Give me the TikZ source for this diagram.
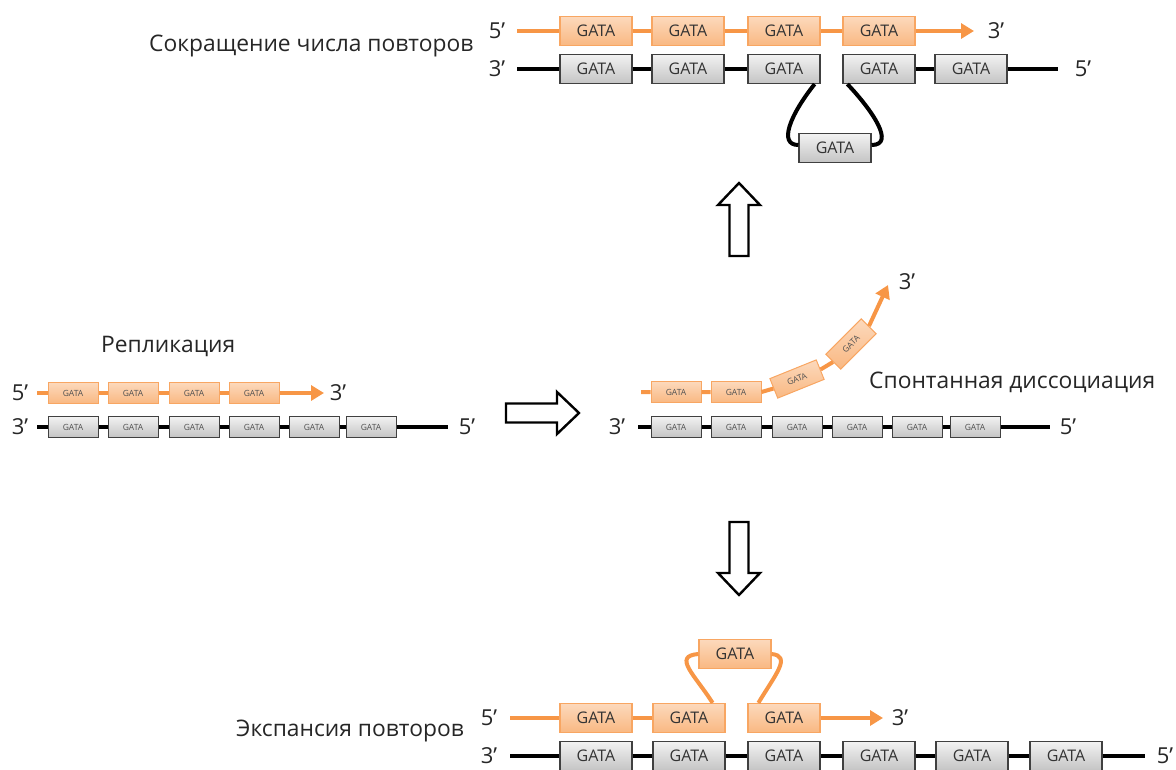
\documentclass[tikz,border=0pt]{standalone}
\usepackage{fontspec}
\setmainfont{Open Sans}
\usetikzlibrary{arrows.meta}
\definecolor{orline}{HTML}{F79646}
\definecolor{ortop}{HTML}{FCD9BC}
\definecolor{orbot}{HTML}{F9B882}
\definecolor{grtop}{HTML}{F2F2F2}
\definecolor{grbot}{HTML}{C4C4C4}
\definecolor{grdraw}{HTML}{404040}
\definecolor{boxtext}{HTML}{333333}
\begin{document}
\begin{tikzpicture}[x=1pt,y=-1pt,
  lbl/.style={inner sep=0pt,font=\fontsize{22}{26}\selectfont,text=black!85},
  ttl/.style={inner sep=0pt,anchor=west,font=\fontsize{22.8}{27}\selectfont,text=black!85},
  bigbox/.style={rectangle,inner sep=0pt,minimum width=72pt,minimum height=29pt,
    line width=1.2pt,font=\fontsize{16}{19}\selectfont,text=boxtext},
  smallbox/.style={rectangle,inner sep=0pt,minimum width=50pt,minimum height=21pt,
    line width=1pt,font=\fontsize{8.5}{10}\selectfont,text=boxtext!85},
  orfill/.style={draw=orline!85,top color=ortop,bottom color=orbot},
  grfill/.style={draw=grdraw,top color=grtop,bottom color=grbot},
  obox/.style={bigbox,orfill}, gbox/.style={bigbox,grfill},
  sobox/.style={smallbox,orfill}, sgbox/.style={smallbox,grfill},
  ostrand/.style={draw=orline,line width=4pt},
  bstrand/.style={draw=black,line width=4pt},
  ohead/.style={ostrand,-{Triangle[length=13pt,width=15pt]}},
  blockarrow/.style={draw=black,line width=2.4pt,fill=white,line join=miter}
]
\useasboundingbox (0,0) rectangle (1176,769);

% ---------- top: contraction ----------
\node[ttl] (tTitle) at (149,46) {Сокращение числа повторов};
\node[lbl] (t5o) at (497,31) {5’};
\node[lbl] (t3o) at (996,31) {3’};
\node[lbl] (t3g) at (497,69) {3’};
\node[lbl] (t5g) at (1083,69) {5’};
\coordinate (tOs) at (517,31);
\coordinate (tOe) at (974,31);
\coordinate (tGs) at (517,69);
\coordinate (tGe) at (1058,69);
\node[obox] (to1) at (596,31) {GATA};
\node[obox] (to2) at (688,31) {GATA};
\node[obox] (to3) at (784,31) {GATA};
\node[obox] (to4) at (879,31) {GATA};
\node[gbox] (tg1) at (596,69) {GATA};
\node[gbox] (tg2) at (688,69) {GATA};
\node[gbox] (tg3) at (784,69) {GATA};
\node[gbox] (tg4) at (879,69) {GATA};
\node[gbox] (tg5) at (971,69) {GATA};
\node[gbox] (tgL) at (835,148) {GATA};
\draw[ostrand] (tOs) -- (to1) (to1) -- (to2) (to2) -- (to3) (to3) -- (to4);
\draw[ohead] (to4.east) -- (tOe);
\draw[bstrand] (tGs) -- (tg1) (tg1) -- (tg2) (tg2) -- (tg3) (tg4) -- (tg5) (tg5) -- (tGe);
\draw[bstrand] ([xshift=-6pt]tg3.south east) .. controls (790,115) and (778,145) .. ([yshift=3pt]tgL.west);
\draw[bstrand] ([xshift=5pt]tg4.south west) .. controls (872,110) and (896,145) .. ([yshift=3pt]tgL.east);

% ---------- middle left: replication ----------
\node[ttl] (lTitle) at (101,346) {Репликация};
\node[lbl] (l5o) at (20,393) {5’};
\node[lbl] (l3o) at (338,393) {3’};
\node[lbl] (l3g) at (20,427) {3’};
\node[lbl] (l5g) at (467,427) {5’};
\coordinate (lOs) at (37,393);
\coordinate (lOe) at (324,393);
\coordinate (lGs) at (37,427);
\coordinate (lGe) at (448,427);
\node[sobox] (lo1) at (73,393) {GATA};
\node[sobox] (lo2) at (133,393) {GATA};
\node[sobox] (lo3) at (194,393) {GATA};
\node[sobox] (lo4) at (254,393) {GATA};
\node[sgbox] (lg1) at (73,427) {GATA};
\node[sgbox] (lg2) at (133,427) {GATA};
\node[sgbox] (lg3) at (194,427) {GATA};
\node[sgbox] (lg4) at (254,427) {GATA};
\node[sgbox] (lg5) at (314,427) {GATA};
\node[sgbox] (lg6) at (371,427) {GATA};
\draw[ostrand] (lOs) -- (lo1) (lo1) -- (lo2) (lo2) -- (lo3) (lo3) -- (lo4);
\draw[ohead] (lo4.east) -- (lOe);
\draw[bstrand] (lGs) -- (lg1) (lg1) -- (lg2) (lg2) -- (lg3) (lg3) -- (lg4)
  (lg4) -- (lg5) (lg5) -- (lg6) (lg6) -- (lGe);

% ---------- middle right: spontaneous dissociation ----------
\node[ttl] (rTitle) at (869,382) {Спонтанная диссоциация};
\node[lbl] (r3g) at (617,427) {3’};
\node[lbl] (r5g) at (1068,427) {5’};
\node[lbl] (r3o) at (907,282) {3’};
\coordinate (rOs) at (641,392);
\coordinate (rOe) at (888,285);
\coordinate (rGs) at (638,427);
\coordinate (rGe) at (1050,427);
\node[sobox] (ro1) at (676,392) {GATA};
\node[sobox] (ro2) at (736,392) {GATA};
\node[sobox,rotate=22] (ro3) at (797,379) {GATA};
\node[sobox,rotate=45] (ro4) at (851,344) {GATA};
\node[sgbox] (rg1) at (676,427) {GATA};
\node[sgbox] (rg2) at (736,427) {GATA};
\node[sgbox] (rg3) at (797,427) {GATA};
\node[sgbox] (rg4) at (857,427) {GATA};
\node[sgbox] (rg5) at (917,427) {GATA};
\node[sgbox] (rg6) at (975,427) {GATA};
\draw[ostrand] (rOs) -- (ro1) (ro1) -- (ro2) (ro2.east) -- (ro3.west) (ro3.east) -- (ro4.west);
\draw[ohead] (ro4.east) -- (rOe);
\draw[bstrand] (rGs) -- (rg1) (rg1) -- (rg2) (rg2) -- (rg3) (rg3) -- (rg4)
  (rg4) -- (rg5) (rg5) -- (rg6) (rg6) -- (rGe);

% ---------- bottom: expansion ----------
\node[ttl] (bTitle) at (236,731) {Экспансия повторов};
\node[lbl] (b5o) at (489,718) {5’};
\node[lbl] (b3o) at (900,718) {3’};
\node[lbl] (b3g) at (489,756) {3’};
\node[lbl] (b5g) at (1165,756) {5’};
\coordinate (bOs) at (510,718);
\coordinate (bOe) at (883,718);
\coordinate (bGs) at (510,756);
\coordinate (bGe) at (1145,756);
\node[obox] (bo1) at (596,718) {GATA};
\node[obox] (bo2) at (689,718) {GATA};
\node[obox] (bo3) at (784,718) {GATA};
\node[obox] (boL) at (735,654) {GATA};
\node[gbox] (bg1) at (596,756) {GATA};
\node[gbox] (bg2) at (689,756) {GATA};
\node[gbox] (bg3) at (784,756) {GATA};
\node[gbox] (bg4) at (879,756) {GATA};
\node[gbox] (bg5) at (972,756) {GATA};
\node[gbox] (bg6) at (1066,756) {GATA};
\draw[ostrand] (bOs) -- (bo1) (bo1) -- (bo2);
\draw[ohead] (bo3.east) -- (bOe);
\draw[ostrand] ([xshift=-13pt]bo2.north east) .. controls (695,675) and (672,656) .. (boL.west);
\draw[ostrand] ([xshift=11pt]bo3.north west) .. controls (775,675) and (792,656) .. (boL.east);
\draw[bstrand] (bGs) -- (bg1) (bg1) -- (bg2) (bg2) -- (bg3) (bg3) -- (bg4)
  (bg4) -- (bg5) (bg5) -- (bg6) (bg6) -- (bGe);

% ---------- block arrows between stages ----------
\draw[blockarrow] (506,403.5) -- (557,403.5) -- (557,392) -- (579,413)
  -- (557,434) -- (557,422.5) -- (506,422.5) -- cycle;
\draw[blockarrow] (729.5,256) -- (729.5,205) -- (718,205) -- (739,183)
  -- (760,205) -- (748.5,205) -- (748.5,256) -- cycle;
\draw[blockarrow] (729.5,522) -- (729.5,573) -- (718,573) -- (739,595)
  -- (760,573) -- (748.5,573) -- (748.5,522) -- cycle;
\end{tikzpicture}
\end{document}
